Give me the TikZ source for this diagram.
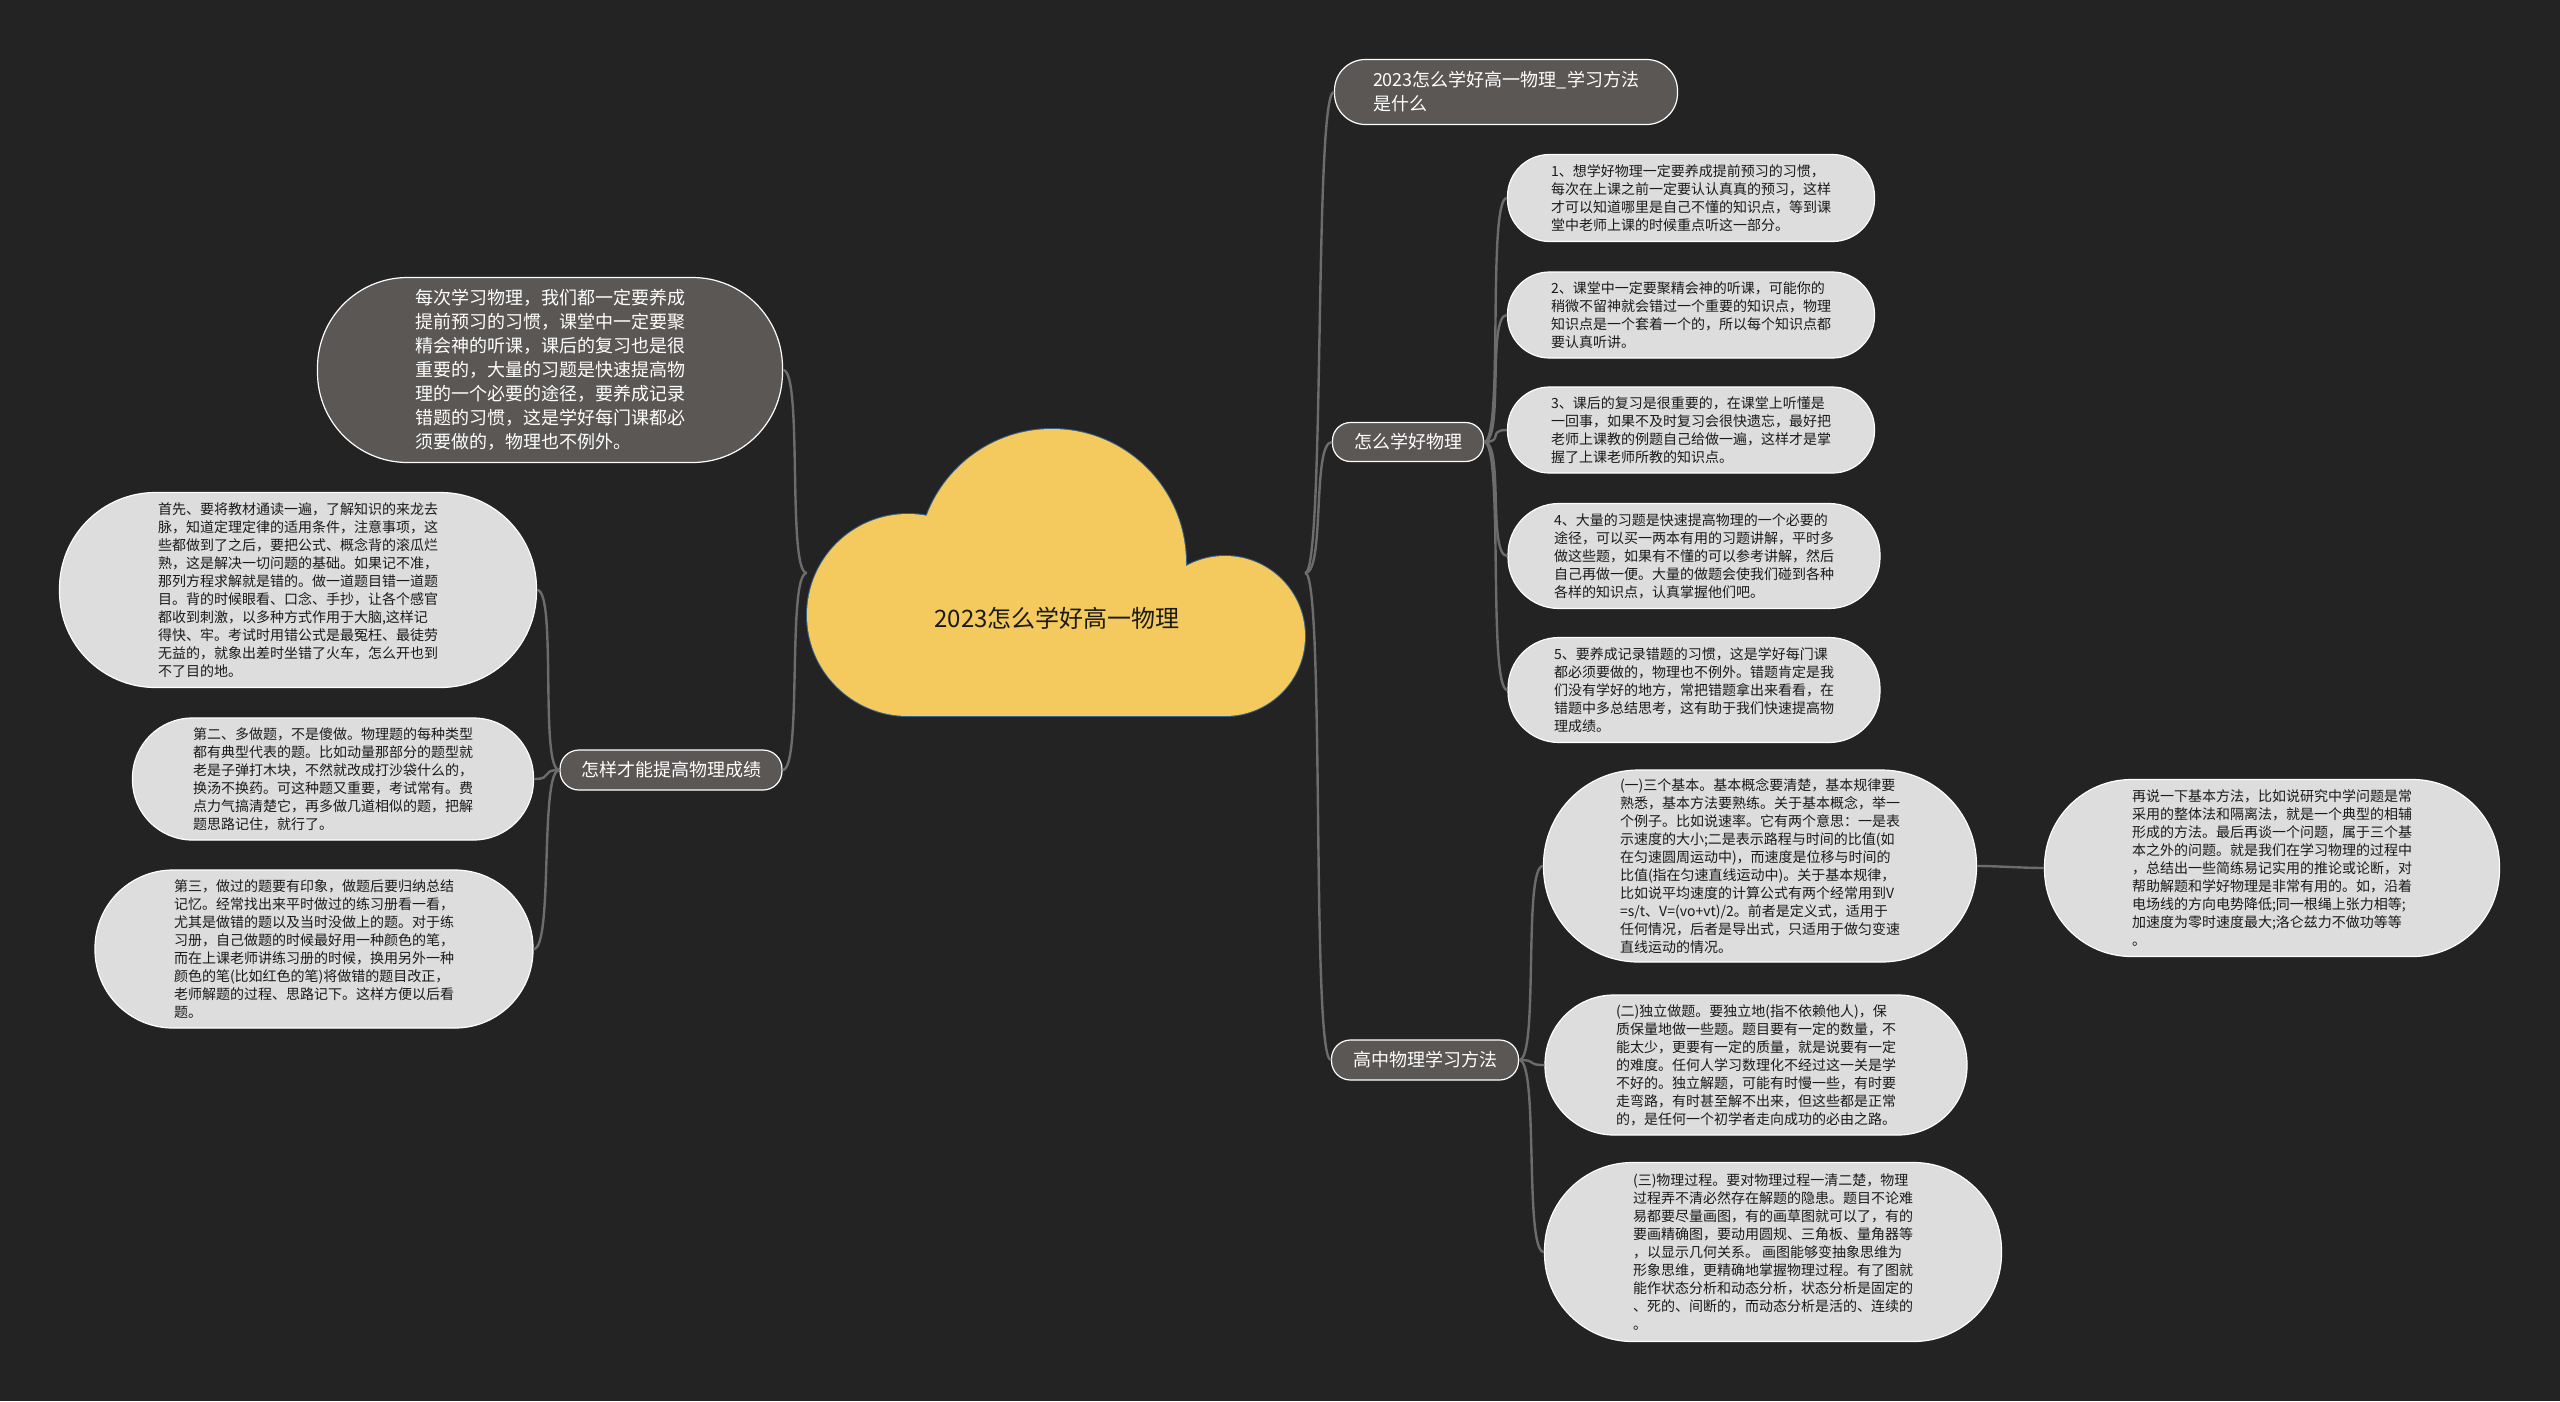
\documentclass[tikz,border=0pt]{standalone}
\usepackage{fontspec}
\setmainfont{Noto Sans CJK SC}
\definecolor{beijing}{HTML}{232323}
\definecolor{huise}{HTML}{5A5755}
\definecolor{qianhui}{HTML}{DDDDDD}
\definecolor{xianse}{HTML}{6C6C6C}
\definecolor{yunse}{HTML}{F4CA5E}
\definecolor{yunbian}{HTML}{35608A}
\definecolor{zise}{HTML}{1A1A1A}

\begin{document}
\begin{tikzpicture}[x=1pt, y=-1pt,
    zhi/.style={draw=white, line width=1.2pt, fill=huise, text=white, align=left, inner sep=0pt, font=\fontsize{18}{24}\selectfont},
    ye/.style={draw=white, line width=1.2pt, fill=qianhui, text=zise, align=left, inner sep=0pt, font=\fontsize{14}{18}\selectfont},
    xian/.style={xianse, line width=2.4pt}]

    % 背景
    \fill[beijing] (0,0) rectangle (2560,1401);
    \useasboundingbox (0,0) rectangle (2560,1401);

    % 中心云朵 (先描边再填充)
    \foreach \cx/\cy/\r in {1052/563/134, 908/615/101, 1225/636/80} {
        \draw[yunbian, line width=2pt] (\cx,\cy) circle[radius=\r pt];
    }
    \draw[yunbian, line width=2pt] (908,590) rectangle (1225,716);
    \foreach \cx/\cy/\r in {1052/563/134, 908/615/101, 1225/636/80} {
        \fill[yunse] (\cx,\cy) circle[radius=\r pt];
    }
    \fill[yunse] (908,590) rectangle (1225,716);
    \node[minimum width=498pt, minimum height=287pt, inner sep=0pt] (yun) at (1056,573) {};
    \node[font=\fontsize{24}{28}\selectfont, text=zise] (zhuti) at (1057,618) {2023怎么学好高一物理};

    % 右侧分支
    \node[zhi, minimum width=343pt, minimum height=65pt, rounded corners=31pt] (biaoti) at (1506,92) {2023怎么学好高一物理\_学习方法\\是什么};
    \node[zhi, minimum width=151pt, minimum height=39pt, rounded corners=18pt] (wuli) at (1408,442) {怎么学好物理};
    \node[zhi, minimum width=187pt, minimum height=40pt, rounded corners=19pt] (fangfa) at (1425,1060) {高中物理学习方法};

    \node[ye, minimum width=367pt, minimum height=87pt, rounded corners=42pt] (w1) at (1691,198) {1、想学好物理一定要养成提前预习的习惯，\\%
每次在上课之前一定要认认真真的预习，这样\\%
才可以知道哪里是自己不懂的知识点，等到课\\%
堂中老师上课的时候重点听这一部分。};
    \node[ye, minimum width=367pt, minimum height=86pt, rounded corners=42pt] (w2) at (1691,315) {2、课堂中一定要聚精会神的听课，可能你的\\%
稍微不留神就会错过一个重要的知识点，物理\\%
知识点是一个套着一个的，所以每个知识点都\\%
要认真听讲。};
    \node[ye, minimum width=367pt, minimum height=86pt, rounded corners=42pt] (w3) at (1691,430) {3、课后的复习是很重要的，在课堂上听懂是\\%
一回事，如果不及时复习会很快遗忘，最好把\\%
老师上课教的例题自己给做一遍，这样才是掌\\%
握了上课老师所教的知识点。};
    \node[ye, minimum width=372pt, minimum height=105pt, rounded corners=51pt] (w4) at (1694,556) {4、大量的习题是快速提高物理的一个必要的\\%
途径，可以买一两本有用的习题讲解，平时多\\%
做这些题，如果有不懂的可以参考讲解，然后\\%
自己再做一便。大量的做题会使我们碰到各种\\%
各样的知识点，认真掌握他们吧。};
    \node[ye, minimum width=372pt, minimum height=105pt, rounded corners=51pt] (w5) at (1694,690) {5、要养成记录错题的习惯，这是学好每门课\\%
都必须要做的，物理也不例外。错题肯定是我\\%
们没有学好的地方，常把错题拿出来看看，在\\%
错题中多总结思考，这有助于我们快速提高物\\%
理成绩。};

    \node[ye, minimum width=433pt, minimum height=192pt, rounded corners=95pt] (f1) at (1760,866) {(一)三个基本。基本概念要清楚，基本规律要\\%
熟悉，基本方法要熟练。关于基本概念，举一\\%
个例子。比如说速率。它有两个意思：一是表\\%
示速度的大小;二是表示路程与时间的比值(如\\%
在匀速圆周运动中)，而速度是位移与时间的\\%
比值(指在匀速直线运动中)。关于基本规律，\\%
比如说平均速度的计算公式有两个经常用到V\\%
=s/t、V=(vo+vt)/2。前者是定义式，适用于\\%
任何情况，后者是导出式，只适用于做匀变速\\%
直线运动的情况。};
    \node[ye, minimum width=455pt, minimum height=177pt, rounded corners=87pt] (f1b) at (2272,868) {再说一下基本方法，比如说研究中学问题是常\\%
采用的整体法和隔离法，就是一个典型的相辅\\%
形成的方法。最后再谈一个问题，属于三个基\\%
本之外的问题。就是我们在学习物理的过程中\\%
，总结出一些简练易记实用的推论或论断，对\\%
帮助解题和学好物理是非常有用的。如，沿着\\%
电场线的方向电势降低;同一根绳上张力相等;\\%
加速度为零时速度最大;洛仑兹力不做功等等\\%
。};
    \node[ye, minimum width=422pt, minimum height=140pt, rounded corners=69pt] (f2) at (1756,1065) {(二)独立做题。要独立地(指不依赖他人)，保\\%
质保量地做一些题。题目要有一定的数量，不\\%
能太少，更要有一定的质量，就是说要有一定\\%
的难度。任何人学习数理化不经过这一关是学\\%
不好的。独立解题，可能有时慢一些，有时要\\%
走弯路，有时甚至解不出来，但这些都是正常\\%
的，是任何一个初学者走向成功的必由之路。};
    \node[ye, minimum width=457pt, minimum height=179pt, rounded corners=88pt] (f3) at (1773,1252) {(三)物理过程。要对物理过程一清二楚，物理\\%
过程弄不清必然存在解题的隐患。题目不论难\\%
易都要尽量画图，有的画草图就可以了，有的\\%
要画精确图，要动用圆规、三角板、量角器等\\%
，以显示几何关系。 画图能够变抽象思维为\\%
形象思维，更精确地掌握物理过程。有了图就\\%
能作状态分析和动态分析，状态分析是固定的\\%
、死的、间断的，而动态分析是活的、连续的\\%
。};

    % 左侧分支
    \node[zhi, minimum width=465pt, minimum height=185pt, rounded corners=90pt] (zongjie) at (550,370) {每次学习物理，我们都一定要养成\\%
提前预习的习惯，课堂中一定要聚\\%
精会神的听课，课后的复习也是很\\%
重要的，大量的习题是快速提高物\\%
理的一个必要的途径，要养成记录\\%
错题的习惯，这是学好每门课都必\\%
须要做的，物理也不例外。};
    \node[zhi, minimum width=222pt, minimum height=40pt, rounded corners=19pt] (chengji) at (671,770) {怎样才能提高物理成绩};

    \node[ye, minimum width=477pt, minimum height=195pt, rounded corners=96pt] (c1) at (298,590) {首先、要将教材通读一遍，了解知识的来龙去\\%
脉，知道定理定律的适用条件，注意事项，这\\%
些都做到了之后，要把公式、概念背的滚瓜烂\\%
熟，这是解决一切问题的基础。如果记不准，\\%
那列方程求解就是错的。做一道题目错一道题\\%
目。背的时候眼看、口念、手抄，让各个感官\\%
都收到刺激，以多种方式作用于大脑,这样记\\%
得快、牢。考试时用错公式是最冤枉、最徒劳\\%
无益的，就象出差时坐错了火车，怎么开也到\\%
不了目的地。};
    \node[ye, minimum width=401pt, minimum height=122pt, rounded corners=60pt] (c2) at (333,779) {第二、多做题，不是傻做。物理题的每种类型\\%
都有典型代表的题。比如动量那部分的题型就\\%
老是子弹打木块，不然就改成打沙袋什么的，\\%
换汤不换药。可这种题又重要，考试常有。费\\%
点力气搞清楚它，再多做几道相似的题，把解\\%
题思路记住，就行了。};
    \node[ye, minimum width=438pt, minimum height=158pt, rounded corners=78pt] (c3) at (314,949) {第三，做过的题要有印象，做题后要归纳总结\\%
记忆。经常找出来平时做过的练习册看一看，\\%
尤其是做错的题以及当时没做上的题。对于练\\%
习册，自己做题的时候最好用一种颜色的笔，\\%
而在上课老师讲练习册的时候，换用另外一种\\%
颜色的笔(比如红色的笔)将做错的题目改正，\\%
老师解题的过程、思路记下。这样方便以后看\\%
题。};

    % 连线 (左端/右端)
    \foreach \a/\b in {yun.east/biaoti.west, yun.east/wuli.west, yun.east/fangfa.west,
        wuli.east/w1.west, wuli.east/w2.west, wuli.east/w3.west, wuli.east/w4.west, wuli.east/w5.west,
        fangfa.east/f1.west, fangfa.east/f2.west, fangfa.east/f3.west, f1.east/f1b.west,
        zongjie.east/yun.west, chengji.east/yun.west,
        c1.east/chengji.west, c2.east/chengji.west, c3.east/chengji.west} {
        \draw[xian] (\a) .. controls +(20,0) and +(-20,0) .. (\b);
    }
\end{tikzpicture}
\end{document}
